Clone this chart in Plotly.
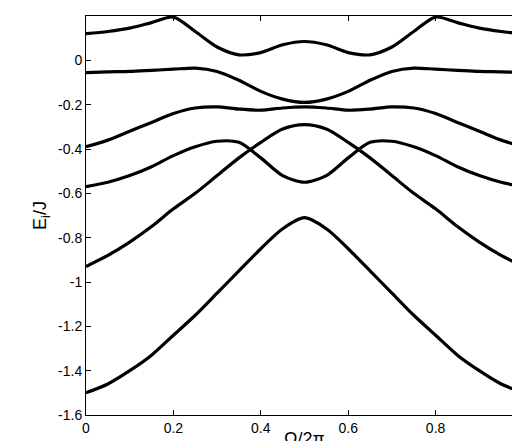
import plotly.graph_objs as go

x = [0, .05, .1, .15, .2, .25, .3, .35, .4, .45, .5,
     .55, .6, .65, .7, .75, .8, .85, .9, .95, 1]

band_a = [.12, .13, .145, .17, .195, .13, .06, .025, .035, .07, .085,
          .07, .035, .025, .06, .13, .195, .17, .145, .13, .12]
band_b = [-.055, -.052, -.05, -.045, -.04, -.035, -.05, -.09, -.14, -.175, -.19,
          -.175, -.14, -.09, -.05, -.035, -.04, -.045, -.05, -.052, -.055]
band_c = [-.39, -.36, -.32, -.28, -.24, -.215, -.21, -.22, -.225, -.215, -.21,
          -.215, -.225, -.22, -.21, -.215, -.24, -.28, -.32, -.36, -.39]
band_d = [-.57, -.55, -.52, -.48, -.43, -.39, -.365, -.37, -.44, -.52, -.55,
          -.52, -.44, -.37, -.365, -.39, -.43, -.48, -.52, -.55, -.57]
band_e = [-.93, -.88, -.82, -.75, -.67, -.6, -.52, -.44, -.37, -.31, -.29,
          -.31, -.37, -.44, -.52, -.6, -.67, -.75, -.82, -.88, -.93]
band_f = [-1.5, -1.46, -1.4, -1.33, -1.24, -1.15, -1.05, -.95, -.85, -.76, -.71,
          -.76, -.85, -.95, -1.05, -1.15, -1.24, -1.33, -1.4, -1.46, -1.5]

x_ticks = [0, 0.2, 0.4, 0.6, 0.8, 1]
y_ticks = [-1.6, -1.4, -1.2, -1, -0.8, -0.6, -0.4, -0.2, 0, 0.2]

fig = go.Figure()
for y in [band_a, band_b, band_c, band_d, band_e, band_f]:
    fig.add_trace(go.Scatter(x=x, y=y, mode="lines",
                             line=dict(color="black", width=3.2, shape="spline", smoothing=0.8)))

axis = dict(showgrid=False, zeroline=False, ticks="inside", ticklen=5, mirror="ticks",
            showline=True, linecolor="black", linewidth=1, tickcolor="black",
            automargin=False, tickfont=dict(size=14, color="black"))
fig.update_layout(
    width=520, height=441, showlegend=False,
    plot_bgcolor="white", paper_bgcolor="white",
    font=dict(family="Liberation Sans, Arial", color="black"),
    margin=dict(l=78, r=5, t=8, b=34),
    xaxis=dict(axis, range=[0, 1], tickvals=x_ticks, ticktext=[f"{v:g}" for v in x_ticks],
               title=dict(text="Ω/2π", font=dict(size=18, color="black"), standoff=0)),
    yaxis=dict(axis, range=[-1.6, 0.2], tickvals=y_ticks, ticktext=[f"{v:g}" for v in y_ticks],
               title=dict(text="E<sub>i</sub>/J", font=dict(size=18, color="black"), standoff=6)),
)
fig.write_html("out.html")
